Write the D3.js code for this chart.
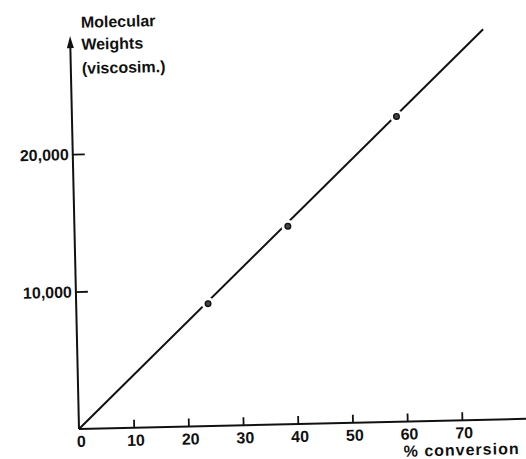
<!DOCTYPE html>
<html>
<head>
<meta charset="utf-8">
<script src="https://cdn.jsdelivr.net/npm/d3@7"></script>
<style>
  html, body { margin: 0; padding: 0; background: #fff; }
  svg { display: block; }
  text { font-family: "Liberation Sans", Arial, sans-serif; font-weight: bold; fill: #111; }
</style>
</head>
<body>
<svg id="chart" width="526" height="459"></svg>
<script>
// Measured points: % conversion vs. viscosimetric molecular weight
const conversion = [24.1, 39.0, 59.3];
const molWeight = [8900, 14400, 22200];

// Straight line through the origin drawn through the points
const fitConversion = [0, 75.5];
const fitMolWeight = [0, 28400];

// Axis ticks
const xTicks = [0, 10, 20, 30, 40, 50, 60, 70];
const yTicks = [10000, 20000];
const yTickLabels = ["10,000", "20,000"];

const yTitle = ["Molecular", "Weights", "(viscosim.)"];
const xTitle = "% conversion";

const svg = d3.select("#chart");

// Plot frame: origin at lower left, whole figure slightly tilted
const origin = { x: 79, y: 429 };
const g = svg.append("g")
  .attr("transform", `translate(${origin.x},${origin.y}) rotate(-1.3)`);

const x = d3.scaleLinear().domain([0, 70]).range([0, 383]);
const y = d3.scaleLinear().domain([0, 20000]).range([0, -275]);

const ink = "#111";

// Axes lines
g.append("line")
  .attr("x1", 0).attr("y1", 0)
  .attr("x2", 470).attr("y2", 0)
  .attr("stroke", ink).attr("stroke-width", 2);

g.append("line")
  .attr("x1", 0).attr("y1", 0)
  .attr("x2", 0).attr("y2", -386)
  .attr("stroke", ink).attr("stroke-width", 2);

// Arrowhead on the y axis
g.append("path")
  .attr("d", "M0,-393 L-3.5,-381 L3.5,-381 Z")
  .attr("fill", ink);

// X ticks (pointing up, inside the plot)
const xAxis = d3.axisTop(x)
  .tickValues(xTicks.filter(d => d > 0))
  .tickSize(8)
  .tickFormat("");
const xg = g.append("g").call(xAxis);
xg.select(".domain").remove();
xg.selectAll(".tick line").attr("stroke", ink).attr("stroke-width", 1.8);

// X tick labels
g.selectAll(".xlab")
  .data(xTicks)
  .join("text")
  .attr("class", "xlab")
  .attr("x", d => x(d) + 2)
  .attr("y", 18)
  .attr("text-anchor", "middle")
  .style("font-size", "16px")
  .text(d => d);

// Y ticks (pointing right, inside the plot)
const yAxis = d3.axisRight(y)
  .tickValues(yTicks)
  .tickSize(12)
  .tickFormat("");
const yg = g.append("g").call(yAxis);
yg.select(".domain").remove();
yg.selectAll(".tick line").attr("stroke", ink).attr("stroke-width", 1.8);

// Y tick labels
g.selectAll(".ylab")
  .data(yTicks)
  .join("text")
  .attr("class", "ylab")
  .attr("x", -4)
  .attr("y", d => y(d) + 6)
  .attr("text-anchor", "end")
  .style("font-size", "16px")
  .text((d, i) => yTickLabels[i]);

// Y axis title
const yTitleY = [-401, -379, -355];
g.selectAll(".ytitle")
  .data(yTitle)
  .join("text")
  .attr("class", "ytitle")
  .attr("x", 11)
  .attr("y", (d, i) => yTitleY[i])
  .style("font-size", "16px")
  .text(d => d);

// X axis title
g.append("text")
  .attr("x", 324)
  .attr("y", 35)
  .style("font-size", "16px")
  .style("letter-spacing", "1px")
  .text(xTitle);

// Fitted line
const line = d3.line()
  .x(d => x(d[0]))
  .y(d => y(d[1]));
g.append("path")
  .datum(d3.zip(fitConversion, fitMolWeight))
  .attr("d", line)
  .attr("fill", "none")
  .attr("stroke", ink)
  .attr("stroke-width", 2);

// Data points with a small clear gap in the line around each
const pts = d3.zip(conversion, molWeight);
g.selectAll(".gap")
  .data(pts)
  .join("circle")
  .attr("class", "gap")
  .attr("cx", d => x(d[0]))
  .attr("cy", d => y(d[1]))
  .attr("r", 6.5)
  .attr("fill", "#fff");
g.selectAll(".pt")
  .data(pts)
  .join("circle")
  .attr("class", "pt")
  .attr("cx", d => x(d[0]))
  .attr("cy", d => y(d[1]))
  .attr("r", 2.8)
  .attr("fill", "#444")
  .attr("stroke", ink)
  .attr("stroke-width", 1.4);
</script>
</body>
</html>
